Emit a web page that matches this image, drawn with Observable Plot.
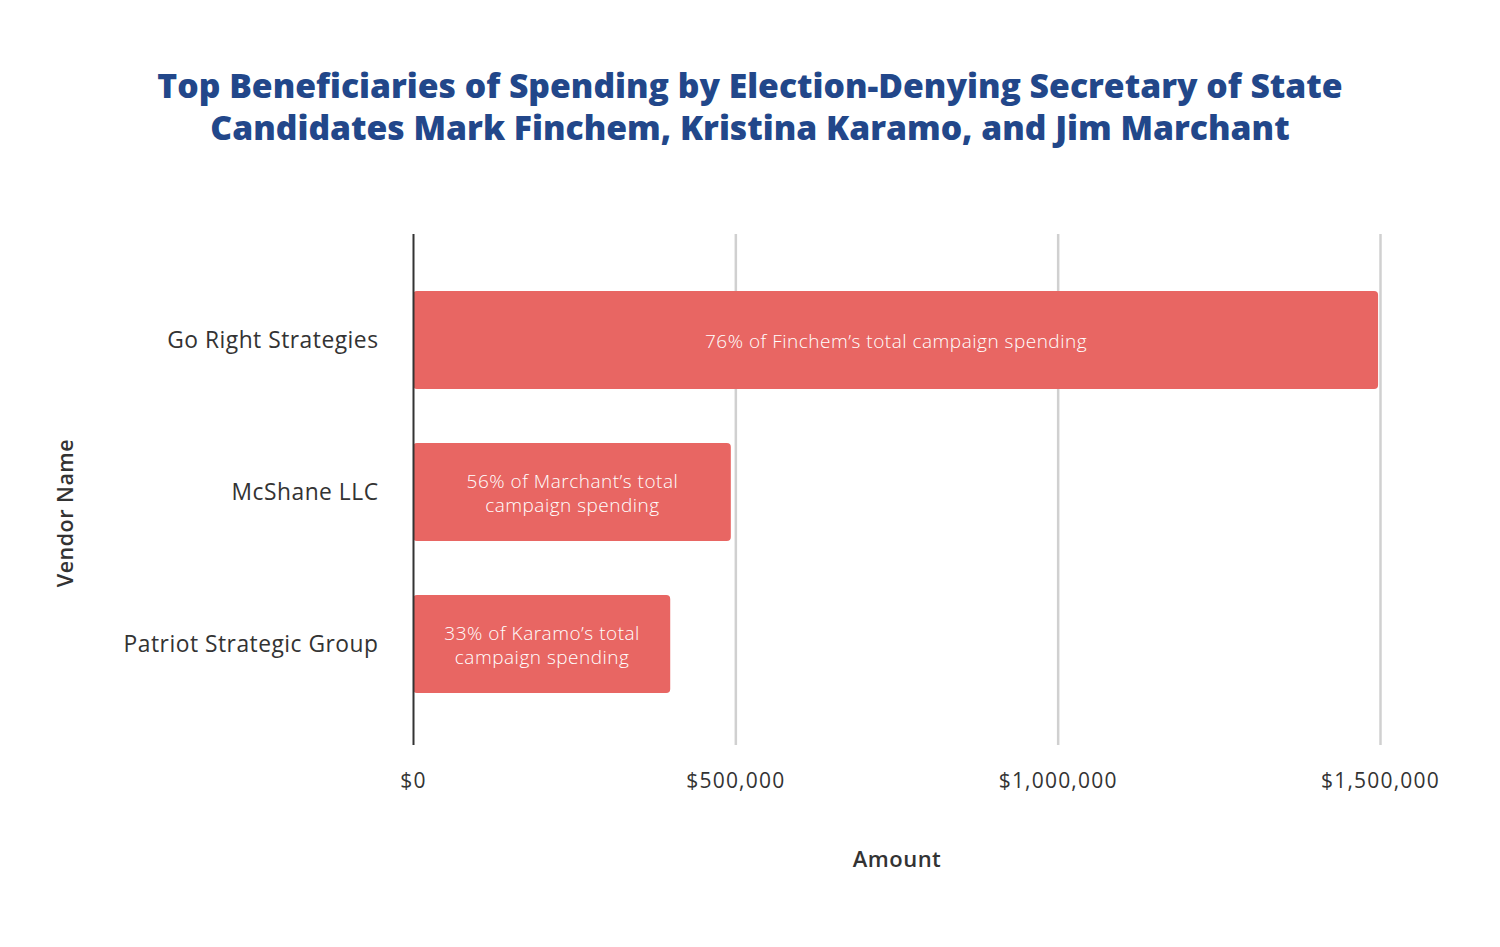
<!DOCTYPE html>
<html>
<head>
<meta charset="utf-8">
<script src="https://cdn.jsdelivr.net/npm/d3@7"></script>
<script src="https://cdn.jsdelivr.net/npm/@observablehq/plot@0.6"></script>
<style>
  body { margin: 0; background: #fff; }
  #title { padding-top: 64px; height: 84px; text-align: center; font-family: "Open Sans", sans-serif; font-weight: 800; font-size: 33.7px; line-height: 42px; color: #22478a; }
  #chart svg { display: block; }
</style>
</head>
<body>
<div id="title">Top Beneficiaries of Spending by Election-Denying Secretary of State<br>Candidates Mark Finchem, Kristina Karamo, and Jim Marchant</div>
<div id="chart"></div>
<script>
const vendors = ["Go Right Strategies", "McShane LLC", "Patriot Strategic Group"];
const amounts = [1497000, 493000, 399000];
const notes = [
  "76% of Finchem’s total campaign spending",
  "56% of Marchant’s total\ncampaign spending",
  "33% of Karamo’s total\ncampaign spending"
];
const xTicks = [0, 500000, 1000000, 1500000];
const xLabel = "Amount";
const yLabel = "Vendor Name";

const data = vendors.map((v, i) => ({vendor: v, amount: amounts[i], note: notes[i]}));
const fmt = d => "$" + d3.format(",")(d);

const chart = Plot.plot({
  width: 1500,
  height: 799,
  marginTop: 86,
  marginBottom: 202,
  marginLeft: 413,
  marginRight: 120,
  style: {fontFamily: "'Open Sans', sans-serif", background: "#fff", color: "#333", letterSpacing: "0.5px"},
  x: {domain: [0, 1500000]},
  y: {domain: vendors, padding: 0.355, range: [89, 599]},
  marks: [
    Plot.ruleX(xTicks.slice(1), {stroke: "#d0d0d0", strokeWidth: 2.5}),
    Plot.barX(data, {y: "vendor", x: "amount", fill: "#e86663", rx: 4}),
    Plot.ruleX([0], {stroke: "#333", strokeWidth: 2}),
    Plot.text(data, {y: "vendor", x: d => d.amount / 2, text: "note", fill: "#fff", fontSize: 19, fontWeight: 300, lineHeight: 1.26}),
    Plot.axisY({tickSize: 0, tickPadding: 35, fontSize: 22.8, label: null, color: "#333"}),
    Plot.axisX({ticks: xTicks, tickFormat: fmt, tickSize: 0, tickPadding: 28, fontSize: 21, label: null, color: "#333"}),
    Plot.text([xLabel], {frameAnchor: "bottom", dy: 121, fontSize: 22, fontWeight: 600, fill: "#333"}),
    Plot.text([yLabel], {frameAnchor: "left", textAnchor: "middle", dx: -347, dy: 23, rotate: -90, fontSize: 21.5, fontWeight: 600, fill: "#333"})
  ]
});
d3.select(chart).selectAll('g[aria-label="x-axis tick label"] text').style("letter-spacing", "1.2px");
document.getElementById("chart").appendChild(chart);
</script>
</body>
</html>
